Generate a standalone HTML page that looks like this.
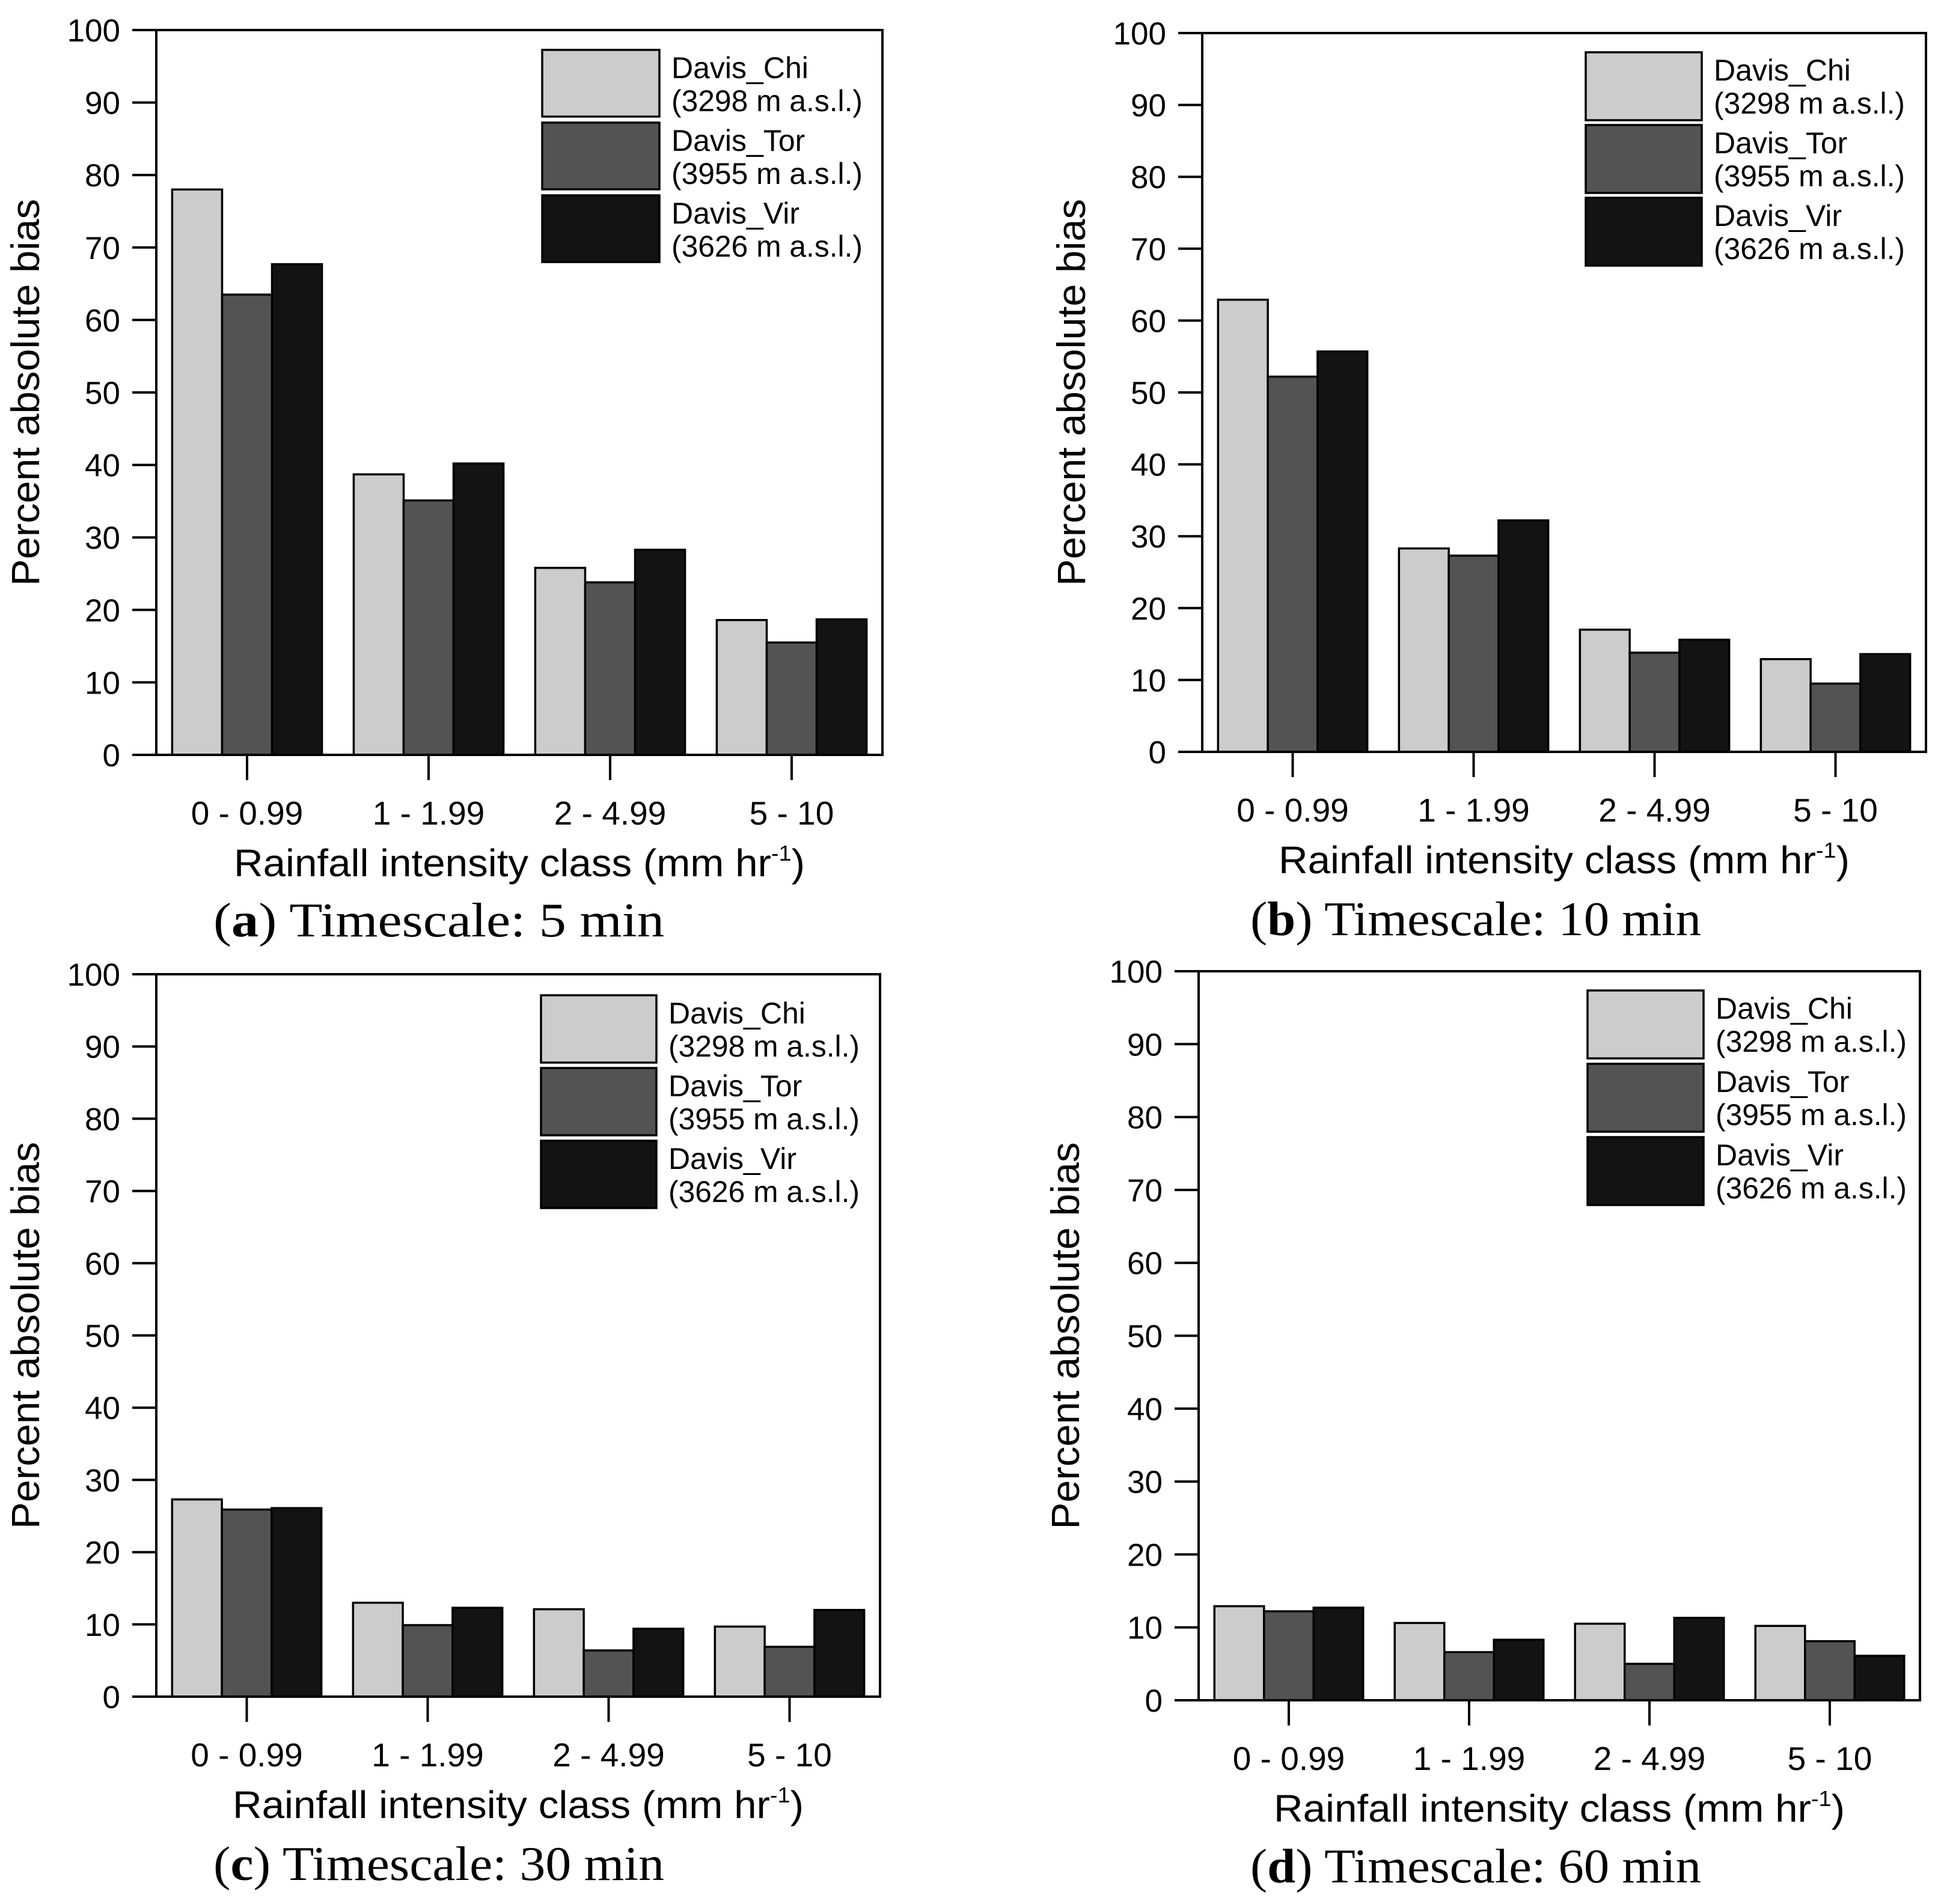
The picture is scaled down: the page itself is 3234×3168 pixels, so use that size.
<!DOCTYPE html>
<html><head><meta charset="utf-8"><style>
html,body{margin:0;padding:0;background:#fff;}
svg{display:block;}
</style></head><body>
<svg id="fig" width="3234" height="3168" viewBox="0 0 3234 3168" xmlns="http://www.w3.org/2000/svg" font-family="'Liberation Sans', Arial, sans-serif"></svg>
<script>
const categories = ["0 - 0.99", "1 - 1.99", "2 - 4.99", "5 - 10"];
const seriesNames = ["Davis_Chi", "Davis_Tor", "Davis_Vir"];
const seriesElev = ["(3298 m a.s.l.)", "(3955 m a.s.l.)", "(3626 m a.s.l.)"];
const yTicks = [0, 10, 20, 30, 40, 50, 60, 70, 80, 90, 100];
// panel a: 5 min
const a_chi = [78.0, 38.7, 25.8, 18.6];
const a_tor = [63.5, 35.1, 23.8, 15.5];
const a_vir = [67.7, 40.2, 28.3, 18.7];
// panel b: 10 min
const b_chi = [62.9, 28.3, 17.0, 12.9];
const b_tor = [52.2, 27.3, 13.8, 9.5];
const b_vir = [55.7, 32.2, 15.6, 13.6];
// panel c: 30 min
const c_chi = [27.3, 13.0, 12.1, 9.7];
const c_tor = [25.9, 9.9, 6.4, 6.9];
const c_vir = [26.1, 12.3, 9.4, 12.0];
// panel d: 60 min
const d_chi = [12.9, 10.6, 10.5, 10.2];
const d_tor = [12.2, 6.6, 5.0, 8.1];
const d_vir = [12.7, 8.3, 11.3, 6.1];
const captionLetters = ["a", "b", "c", "d"];
const captionTimes = ["5 min", "10 min", "30 min", "60 min"];

const fills = ["#cccccc", "#535353", "#131313"];
const NS = "http://www.w3.org/2000/svg";
const svg = document.getElementById("fig");
function mk(tag, attrs, parent) {
  const e = document.createElementNS(NS, tag);
  for (const k in attrs) e.setAttribute(k, attrs[k]);
  (parent || svg).appendChild(e);
  return e;
}
const panels = [
  {id:"a", data:[a_chi,a_tor,a_vir], L:260, R:1468, T:50, B:1256, leg:{x:902, y:83, w:195, h:111, gap:121}, ytx:65, capx:355, capy:1558},
  {id:"b", data:[b_chi,b_tor,b_vir], L:2000, R:3204, T:55, B:1251, leg:{x:2638, y:87, w:193, h:113, gap:121}, ytx:1805, capx:2080, capy:1556},
  {id:"c", data:[c_chi,c_tor,c_vir], L:260, R:1464, T:1621, B:2823, leg:{x:900, y:1656, w:192, h:112, gap:121}, ytx:65, capx:355, capy:3128},
  {id:"d", data:[d_chi,d_tor,d_vir], L:1994, R:3194, T:1616, B:2829, leg:{x:2641, y:1648, w:193, h:113, gap:122}, ytx:1795, capx:2080, capy:3132}
];
panels.forEach((p, pi) => {
  const g = mk("g", {});
  
  
  const yS = v => p.B - (v / 100) * (p.B - p.T);
  const band = (p.R - p.L) / categories.length;
  const xC = i => p.L + band * (i + 0.5);
  const bw = band * 0.275;
  p.data.forEach((ser, si) => {
    ser.forEach((v, ci) => {
      const r = mk("rect", {x: xC(ci) - 1.5 * bw + si * bw, y: yS(v), width: bw, height: p.B - yS(v), fill: fills[si], stroke: "#000", "stroke-width": 3.5}, g);
      
      
    });
  });
  const fr = mk("rect", {x: p.L, y: p.T, width: p.R - p.L, height: p.B - p.T, fill: "none", stroke: "#000", "stroke-width": 4}, g);
  
  
  yTicks.forEach(t => {
    const y = yS(t);
    mk("line", {x1: p.L - 40, x2: p.L, y1: y, y2: y, stroke: "#000", "stroke-width": 4}, g);
    const tx = mk("text", {x: p.L - 60, y: y + 19, "font-size": 53, "text-anchor": "end", fill: "#000"}, g);
    tx.textContent = t;
    
    
  });
  categories.forEach((c, ci) => {
    mk("line", {x1: xC(ci), x2: xC(ci), y1: p.B, y2: p.B + 42, stroke: "#000", "stroke-width": 4}, g);
    const tx = mk("text", {x: xC(ci), y: p.B + 116, "font-size": 55, "text-anchor": "middle", fill: "#000"}, g);
    tx.textContent = c;
    
    
  });
  const xt = mk("text", {x: (p.L + p.R) / 2, y: p.B + 202, "font-size": 64, "text-anchor": "middle", fill: "#000", textLength: 950, lengthAdjust: "spacingAndGlyphs"}, g);
  xt.innerHTML = 'Rainfall intensity class (mm hr<tspan font-size="36" dy="-26">-1</tspan><tspan dy="26">)</tspan>';
  
  
  const yc = (p.T + p.B) / 2;
  const yt = mk("text", {x: p.ytx, y: yc, "font-size": 66, "text-anchor": "middle", fill: "#000", transform: "rotate(-90 " + p.ytx + " " + yc + ")", textLength: 644, lengthAdjust: "spacingAndGlyphs"}, g);
  yt.textContent = "Percent absolute bias";
  
  
  seriesNames.forEach((n, si) => {
    const ly = p.leg.y + si * p.leg.gap;
    const lr = mk("rect", {x: p.leg.x, y: ly, width: p.leg.w, height: p.leg.h, fill: fills[si], stroke: "#000", "stroke-width": 3.5}, g);
    
    
    const t1 = mk("text", {x: p.leg.x + p.leg.w + 20, y: ly + 47, "font-size": 50, fill: "#000"}, g);
    t1.textContent = n;
    
    
    const t2 = mk("text", {x: p.leg.x + p.leg.w + 20, y: ly + 102, "font-size": 50, fill: "#000", textLength: 318, lengthAdjust: "spacingAndGlyphs"}, g);
    t2.textContent = seriesElev[si];
    
    
  });
  const cap = mk("text", {x: p.capx, y: p.capy, "font-size": 80, fill: "#000", "font-family": "'Liberation Serif', 'Times New Roman', serif", textLength: 750, lengthAdjust: "spacingAndGlyphs"}, g);
  cap.innerHTML = '(<tspan font-weight="bold">' + captionLetters[pi] + '</tspan>) Timescale: ' + captionTimes[pi];
  
  
});
</script>
</body></html>
